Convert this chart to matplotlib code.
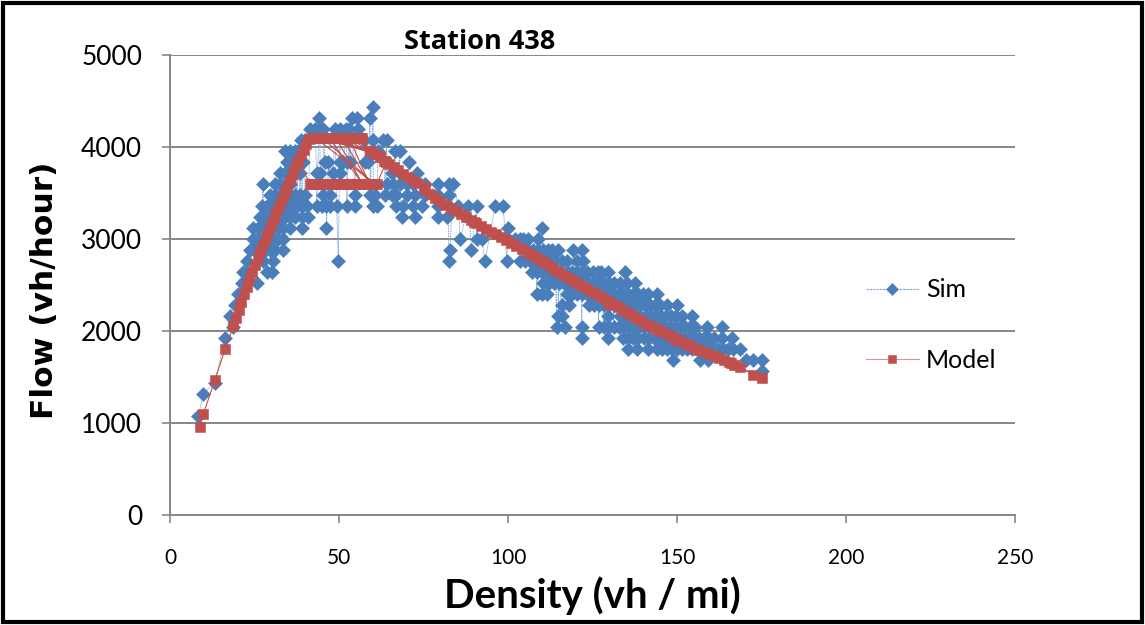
import numpy as np
import matplotlib
matplotlib.use("Agg")
import matplotlib.pyplot as plt
from matplotlib.lines import Line2D
from matplotlib.patches import Rectangle

# Sim: flow comes in steps of 120 vh/hour, densities read per flow level
q_levels = [4440, 4320, 4200, 4080, 3960, 3840, 3720, 3600, 3480, 3360,
            3240, 3120, 3000, 2880, 2760, 2640, 2520, 2400, 2280, 2160,
            2040, 1920, 1800, 1680, 1560, 1440, 1320, 1080]

k_4440 = [60.1]
k_4320 = [44.2, 53.7, 55.2, 59.2]
k_4200 = [41.4, 42.9, 44.4, 45.4, 48.8, 50.3, 52.1, 53.0, 55.7]
k_4080 = [38.9, 39.9, 57.5, 60.1, 63.1, 64.1]
k_3960 = [34.0, 35.5, 37.0, 38.0, 61.6, 66.5, 68.0]
k_3840 = [34.5, 36.0, 37.5, 39.4, 45.8, 46.8, 50.3, 51.3, 52.3, 53.2, 57.7, 58.7, 70.6]
k_3720 = [32.5, 34.0, 35.5, 37.0, 38.4, 43.4, 44.4, 48.3, 50.3, 65.6, 68.0, 73.0]
k_3600 = [27.6, 31.1, 32.5, 34.0, 35.5, 64.1, 66.1, 68.0, 70.0, 72.0, 75.4, 79.4, 82.4, 83.8]
k_3480 = [29.6, 31.1, 32.5, 34.0, 35.5, 37.0, 38.4, 39.9, 45.3, 47.3, 54.7, 59.2, 60.6,
          63.6, 65.6, 67.0, 70.0, 72.5, 75.5, 79.4, 82.4]
k_3360 = [27.1, 28.6, 30.1, 31.5, 33.0, 34.5, 36.0, 37.5, 39.0, 40.4, 43.4, 44.9, 46.3,
          47.3, 49.3, 52.3, 54.7, 60.1, 61.1, 67.0, 69.0, 72.0, 74.5, 79.4, 82.4, 85.3,
          88.3, 90.7, 96.2, 98.6]
k_3240 = [26.6, 28.1, 29.6, 31.1, 32.5, 34.0, 35.5, 37.0, 39.0, 40.9, 68.5, 72.5, 79.4, 81.9]
k_3120 = [24.6, 26.1, 27.6, 29.1, 30.6, 32.0, 33.5, 35.5, 39.0, 46.3, 100.1, 110.2]
k_3000 = [24.6, 26.1, 27.6, 29.1, 30.6, 32.0, 33.5, 85.8, 90.7, 92.2, 100.1, 102.1, 103.5,
          104.5, 106.0, 109.0]
k_2880 = [23.7, 25.2, 26.6, 28.1, 29.6, 31.1, 33.5, 82.8, 89.2, 106.0, 107.5, 109.0, 110.5,
          111.9, 113.0, 114.9, 119.3, 121.8]
k_2760 = [22.7, 27.6, 30.6, 49.8, 82.4, 93.2, 99.6, 103.5, 105.0, 106.5, 108.0, 109.5, 111.0,
          112.5, 114.0, 116.0, 117.5, 120.5, 122.3]
k_2640 = [21.7, 22.7, 28.6, 30.1, 107.0, 108.5, 110.0, 111.5, 113.0, 114.5, 116.0, 117.5,
          119.0, 120.5, 122.0, 123.5, 125.0, 126.5, 127.5, 129.7, 134.6]
k_2520 = [21.2, 25.6, 110.4, 112.0, 113.5, 115.0, 116.5, 118.0, 119.5, 121.0, 122.5, 124.0,
          125.5, 127.0, 128.5, 130.0, 131.5, 133.0, 135.1, 137.6]
k_2400 = [20.2, 108.5, 110.0, 111.5, 117.4, 118.9, 120.4, 121.9, 123.4, 124.9, 126.4, 127.9,
          129.4, 130.9, 132.4, 133.9, 135.4, 136.9, 138.4, 139.9, 141.5, 144.0]
k_2280 = [19.2, 115.9, 117.9, 124.0, 125.5, 127.0, 128.5, 130.0, 131.5, 133.0, 134.5, 136.0,
          137.5, 139.0, 140.5, 142.0, 143.5, 145.0, 147.0, 149.9]
k_2160 = [17.7, 114.9, 115.9, 129.7, 133.2, 134.7, 136.2, 137.7, 139.2, 140.7, 142.2, 143.7,
          145.2, 146.7, 148.2, 149.7, 151.5, 154.4]
k_2040 = [18.7, 114.4, 116.9, 121.8, 126.8, 128.3, 129.8, 131.3, 132.8, 134.3, 135.8, 137.3,
          138.8, 140.3, 141.8, 143.3, 144.8, 146.3, 147.8, 149.3, 150.8, 152.3, 153.8, 155.3,
          158.8, 163.2]
k_1920 = [16.3, 121.8, 129.7, 134.1, 135.6, 137.1, 138.6, 140.1, 141.6, 143.1, 144.6, 146.1,
          147.6, 149.1, 150.6, 152.1, 153.6, 155.1, 156.6, 158.1, 159.6, 161.0, 163.2, 166.2]
k_1800 = [135.6, 138.1, 141.5, 144.0, 145.5, 147.0, 148.5, 150.0, 151.5, 153.0, 154.5, 156.0,
          157.5, 159.0, 160.5, 162.0, 163.5, 165.0, 166.5, 168.7]
k_1680 = [148.9, 156.8, 159.3, 170.5, 172.6, 175.1]
k_1560 = [175.1]
k_1440 = [13.3]
k_1320 = [9.9]
k_1080 = [8.4]

sim_rows = [k_4440, k_4320, k_4200, k_4080, k_3960, k_3840, k_3720, k_3600, k_3480, k_3360,
            k_3240, k_3120, k_3000, k_2880, k_2760, k_2640, k_2520, k_2400, k_2280, k_2160,
            k_2040, k_1920, k_1800, k_1680, k_1560, k_1440, k_1320, k_1080]

# Model: points in time order (free flow up, capacity, congestion, recovery)
model_k = [8.9, 9.9, 13.3, 16.3, 18.7, 19.5, 20.3, 21.1, 21.9, 22.7, 23.5, 24.3, 25.1, 25.9,
           26.7, 27.5, 28.3, 29.1, 29.9, 30.7, 31.5, 32.3, 33.1, 33.9, 34.7, 35.5, 36.3, 37.1,
           37.9, 38.7, 39.5, 40.3, 41.1,
           41.9, 42.7, 43.5, 44.3, 45.1, 45.9, 46.7, 47.5, 48.3, 49.1, 49.9, 50.7, 51.5, 52.3,
           53.1, 53.9, 54.7, 55.5, 56.3,
           59.2, 43.0, 60.5, 45.0, 61.0, 47.0, 57.0, 49.0, 62.0, 51.0, 59.0, 53.0, 63.5, 55.0,
           56.7,
           59.2, 60.6, 62.0, 63.4, 64.8, 66.2, 67.6, 69.0, 70.4, 71.8, 73.2, 75.4, 77.0, 78.5,
           80.0, 81.5, 83.0, 84.5, 86.0, 87.5, 89.0, 90.5, 92.0, 93.5, 95.0, 96.5, 98.0, 99.5,
           101.0, 102.5, 104.0, 105.5, 107.0, 108.5, 110.0, 111.5, 113.0, 114.5, 116.0, 117.5,
           119.0, 120.5, 122.0, 123.5, 125.0, 126.5, 128.0, 129.5, 131.0, 132.5, 134.0, 135.5,
           137.0, 138.5, 140.0, 141.5, 143.0, 144.5, 146.0, 147.5, 149.0, 150.5, 152.0, 153.5,
           155.0, 156.5, 158.0, 159.5, 161.0, 162.5, 164.0, 165.5, 167.0, 168.6, 172.5, 175.0,
           166.0, 150.0, 130.0, 110.0, 90.0, 75.0, 64.0,
           61.2, 60.4, 59.6, 58.8, 58.0, 57.2, 56.4, 55.6, 54.8, 54.0, 53.2, 52.4, 51.6, 50.8,
           50.0, 49.2, 48.4, 47.6, 46.8, 46.0, 45.2, 44.4, 43.6, 42.8, 42.0, 41.4,
           37.9, 33.9]
model_q = [960, 1100, 1470, 1800, 2050, 2140, 2230, 2320, 2400, 2480, 2560, 2640, 2720, 2790,
           2870, 2940, 3010, 3080, 3150, 3220, 3290, 3360, 3430, 3500, 3570, 3640, 3710, 3780,
           3850, 3910, 3970, 4030, 4090,
           4100, 4100, 4100, 4100, 4100, 4100, 4100, 4100, 4100, 4100, 4100, 4100, 4100, 4100,
           4100, 4100, 4100, 4100, 4100,
           3960, 4100, 3600, 4100, 3920, 4100, 3600, 4100, 3890, 4100, 3600, 4100, 3850, 4100,
           4100,
           3960, 3925, 3890, 3850, 3815, 3780, 3745, 3710, 3675, 3640, 3605, 3565, 3490, 3445,
           3410, 3375, 3340, 3305, 3275, 3240, 3210, 3175, 3145, 3110, 3080, 3050, 3020, 2985,
           2955, 2920, 2890, 2855, 2825, 2790, 2760, 2725, 2690, 2655, 2620, 2590,
           2555, 2525, 2490, 2460, 2425, 2395, 2360, 2330, 2295, 2265, 2230, 2195,
           2160, 2130, 2100, 2070, 2040, 2010, 1985, 1955, 1925, 1900, 1870, 1845,
           1820, 1795, 1770, 1750, 1725, 1705, 1680, 1660, 1635, 1612, 1522, 1486,
           1655, 1905, 2295, 2760, 3180, 3545, 3840,
           3600, 3600, 3600, 3600, 3600, 3600, 3600, 3600, 3600, 3600, 3600, 3600, 3600, 3600,
           3600, 3600, 3600, 3600, 3600, 3600, 3600, 3600, 3600, 3600, 3600, 3600,
           3850, 3500]

sim_k = np.concatenate([np.asarray(r, float) for r in sim_rows])
sim_q = np.concatenate([np.full(len(r), q, float) for r, q in zip(sim_rows, q_levels)])
order = np.argsort(sim_k, kind="stable")
sim_k, sim_q = sim_k[order], sim_q[order]

W, H = 1145, 625
fig = plt.figure(figsize=(W / 100, H / 100), dpi=100)
ax = fig.add_axes([170 / W, 1 - 515 / H, 845 / W, 460 / H])

grey = "#868686"
blue = "#4A7EBB"
red = "#C0504D"
sim_style = dict(marker="D", ms=7.2, mfc=blue, mec=blue, mew=0.4)
model_style = dict(marker="s", ms=7.0, mfc=red, mec=red, mew=0.4)

# thin connecting line first, then solid markers on top
ax.plot(sim_k, sim_q, color="#7FA3D2", lw=0.6, ls=(0, (2, 1)))
ax.plot(sim_k, sim_q, ls="none", **sim_style)
ax.plot(model_k, model_q, color=red, lw=0.8, **model_style)

ax.set_xlim(0, 250)
ax.set_ylim(0, 5000)
ax.set_xticks(range(0, 251, 50))
ax.set_yticks(range(0, 5001, 1000))
ax.yaxis.grid(True, color=grey, lw=1.4)
ax.set_axisbelow(True)
for s in ["top", "right"]:
    ax.spines[s].set_visible(False)
for s in ["left", "bottom"]:
    ax.spines[s].set_color(grey)
    ax.spines[s].set_linewidth(1.4)
ax.tick_params(axis="both", direction="out", color=grey, width=1.2, length=6)
ax.tick_params(axis="y", labelsize=19, pad=14)
ax.tick_params(axis="x", labelsize=15, pad=18)
for lab in ax.get_xticklabels() + ax.get_yticklabels():
    lab.set_family("Lato")

fig.text(480 / W, 1 - 42 / H, "Station 438", ha="center", va="center",
         fontsize=19.5, fontweight="bold", family="Open Sans")
fig.text(592 / W, 1 - 596 / H, "Density (vh / mi)", ha="center", va="center",
         fontsize=29, fontweight="bold", family="Lato")
fig.text(45 / W, 1 - 290 / H, "Flow (vh/hour)", ha="center", va="center", rotation=90,
         fontsize=22.5, fontweight="bold", family="DejaVu Sans")

handles = [Line2D([], [], color="#7FA3D2", lw=0.8, ls=(0, (2, 1)),
                  **dict(sim_style, ms=6.0)),
           Line2D([], [], color="#D99694", lw=0.8, **dict(model_style, ms=5.5))]
fig.legend(handles=handles, labels=["Sim", "Model"], loc="center left",
           bbox_to_anchor=(866 / W, 1 - 325 / H), frameon=False,
           prop={"family": "Lato", "size": 18}, handlelength=2.1,
           handletextpad=0.3, labelspacing=1.9, borderpad=0, borderaxespad=0)

fig.patches.append(Rectangle((3 / W, 3 / H), 1 - 6 / W, 1 - 6 / H, transform=fig.transFigure,
                             fill=False, lw=3, ec="black"))

fig.savefig("out.png", dpi=100)
